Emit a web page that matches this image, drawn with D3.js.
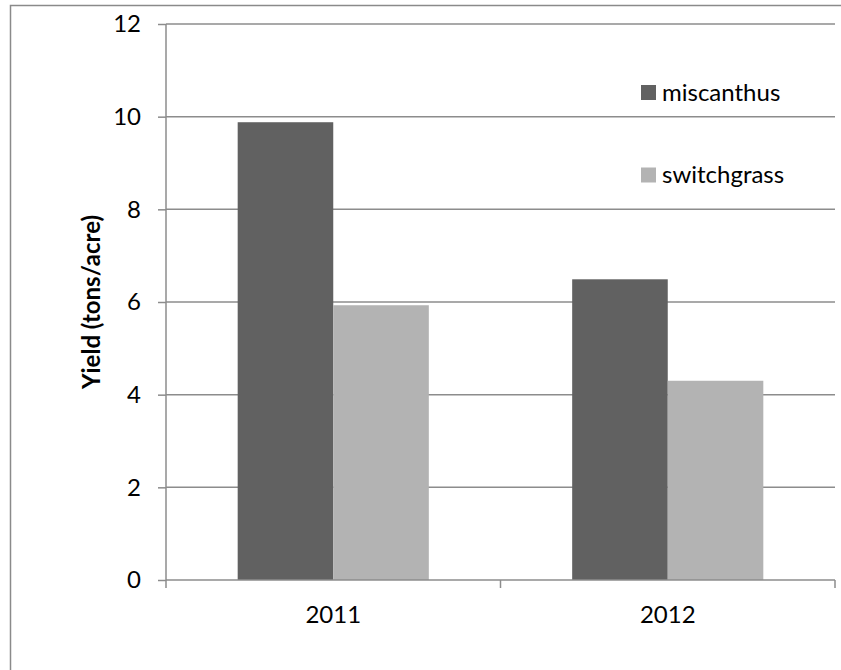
<!DOCTYPE html>
<html>
<head>
<meta charset="utf-8">
<script src="https://cdn.jsdelivr.net/npm/d3@7"></script>
<style>
  html, body { margin: 0; padding: 0; background: #fff; }
  svg { display: block; font-family: Lato, "Open Sans", sans-serif; }
</style>
</head>
<body>
<svg id="chart" width="841" height="670"></svg>
<script>
// Yield data by year and crop
const years = ["2011", "2012"];
const crops = ["miscanthus", "switchgrass"];
const miscanthus = [9.88, 6.49];
const switchgrass = [5.93, 4.30];
const yTicks = [0, 2, 4, 6, 8, 10, 12];
const colors = ["#616161", "#b3b3b3"];

const seriesValues = [miscanthus, switchgrass];
const FONT = 24;

const svg = d3.select("#chart");
const margin = { left: 166, right: 6, top: 24, bottom: 90 };
const W = 841, H = 670;
const x0 = margin.left, x1 = W - margin.right;
const yTop = margin.top, yBot = H - margin.bottom;

// Outer chart frame
svg.append("rect")
  .attr("x", 10.5).attr("y", 5.5)
  .attr("width", 840).attr("height", 700)
  .attr("fill", "none").attr("stroke", "#8a8a8a").attr("stroke-width", 1.5);

const x = d3.scaleBand().domain(years).range([x0, x1]).paddingInner(0).paddingOuter(0);
const y = d3.scaleLinear().domain([0, 12]).range([yBot, yTop]);

// 150% gap width: each bar is band / 3.5
const barW = x.bandwidth() / 3.5;
const xs = d3.scaleBand().domain(crops).range([0.75 * barW, 2.75 * barW]).padding(0);

// Horizontal gridlines
svg.append("g")
  .selectAll("line")
  .data(yTicks.filter(t => t > 0))
  .join("line")
  .attr("x1", x0).attr("x2", x1)
  .attr("y1", d => y(d)).attr("y2", d => y(d))
  .attr("stroke", "#8c8c8c").attr("stroke-width", 1.5);

// Bars
const groups = svg.append("g")
  .selectAll("g")
  .data(years)
  .join("g")
  .attr("transform", d => `translate(${x(d)},0)`);

groups.selectAll("rect")
  .data((d, i) => crops.map((c, j) => ({ crop: c, value: seriesValues[j][i], j })))
  .join("rect")
  .attr("x", d => xs(d.crop))
  .attr("width", xs.bandwidth())
  .attr("y", d => y(d.value))
  .attr("height", d => y(0) - y(d.value))
  .attr("fill", d => colors[d.j]);

// Y axis
const yAxis = d3.axisLeft(y).tickValues(yTicks).tickSize(8).tickPadding(17).tickFormat(d3.format("d"));
const gy = svg.append("g").attr("transform", `translate(${x0},0)`).call(yAxis);
gy.select(".domain").attr("stroke", "#8c8c8c").attr("stroke-width", 1.5).attr("d", `M0,${yBot}V${yTop}`);
gy.selectAll(".tick line").attr("stroke", "#8c8c8c").attr("stroke-width", 1.5);
gy.selectAll(".tick text").attr("font-size", FONT).attr("fill", "#000").attr("font-family", "Lato, 'Open Sans', sans-serif");

// X axis with ticks at category boundaries
const gx = svg.append("g").attr("transform", `translate(0,${yBot})`);
gx.append("line").attr("x1", x0).attr("x2", x1).attr("y1", 0).attr("y2", 0)
  .attr("stroke", "#8c8c8c").attr("stroke-width", 1.5);
const bounds = years.map(d => x(d)).concat([x1]);
gx.selectAll("line.b").data(bounds).join("line").attr("class", "b")
  .attr("x1", d => d).attr("x2", d => d).attr("y1", 0).attr("y2", 8)
  .attr("stroke", "#8c8c8c").attr("stroke-width", 1.5);
gx.selectAll("text").data(years).join("text")
  .attr("x", d => x(d) + x.bandwidth() / 2)
  .attr("y", 43)
  .attr("text-anchor", "middle")
  .attr("font-size", FONT)
  .attr("fill", "#000")
  .text(d => d);

// Y axis title
svg.append("text")
  .attr("transform", `translate(100,${(yTop + yBot) / 2}) rotate(-90)`)
  .attr("text-anchor", "middle")
  .attr("font-size", FONT)
  .attr("font-weight", "bold")
  .attr("fill", "#000")
  .text("Yield (tons/acre)");

// Legend
const legend = svg.append("g").attr("transform", "translate(641,0)");
const legendY = [92.5, 175];
crops.forEach((c, i) => {
  legend.append("rect").attr("x", 0).attr("y", legendY[i] - 7.5)
    .attr("width", 15).attr("height", 15).attr("fill", colors[i]);
  legend.append("text").attr("x", 21).attr("y", legendY[i])
    .attr("dy", "0.35em").attr("font-size", FONT).attr("fill", "#000").text(c);
});
</script>
</body>
</html>
